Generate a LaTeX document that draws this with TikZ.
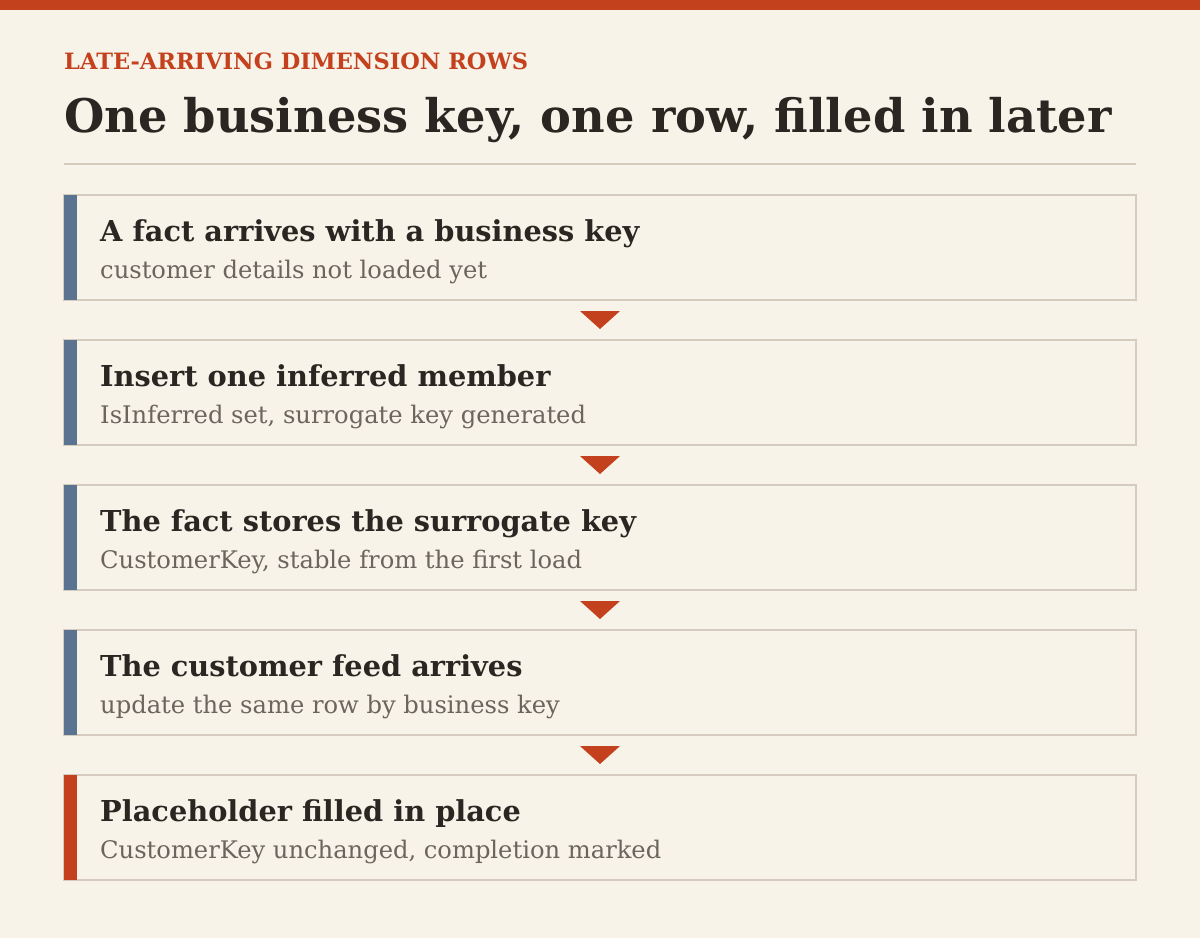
\documentclass[tikz,border=0pt]{standalone}
\usepackage{fontspec}
\setmainfont{DejaVu Serif}
\usetikzlibrary{positioning,calc}
\definecolor{paper}{HTML}{F7F3E9}
\definecolor{rust}{HTML}{C4411E}
\definecolor{ink}{HTML}{2A2622}
\definecolor{muted}{HTML}{6B655D}
\definecolor{rulegray}{HTML}{D5CCBF}
\definecolor{slate}{HTML}{5A7390}
\tikzset{
    stepbox/.style={
           draw=rulegray, line width=2pt,
           minimum width=1072pt,
           minimum height=105pt,
           inner sep=0pt, outer sep=0pt},
    head/.style={
           anchor=base west, inner sep=0pt, text=ink,
           font=\bfseries\fontsize{28.8}{33}\selectfont},
    sub/.style={
           anchor=base west, inner sep=0pt, text=muted,
           font=\fontsize{24.2}{28}\selectfont},
    pil/.style={
           fill=rust}
}
\begin{document}
\begin{tikzpicture}[x=1pt, y=-1pt, node distance=40pt]
        \fill[paper] (0,0) rectangle (1200,938);
        \fill[rust] (0,0) rectangle (1200,10);
        \node[anchor=base west, inner sep=0pt, text=rust, font=\bfseries\fontsize{22.5}{26}\selectfont] (kicker) at (64,69) {LATE-ARRIVING DIMENSION ROWS};
        \node[anchor=base west, inner sep=0pt, text=ink, font=\bfseries\fontsize{46.3}{52}\selectfont] (title) at (64,132) {One business key, one row, filled in later};
        \draw[rulegray, line width=2pt] (64,164) -- (1136,164);

        \node[stepbox] (s1) at (600,247.5) {};
        \node[stepbox, below=of s1] (s2) {};
        \node[stepbox, below=of s2] (s3) {};
        \node[stepbox, below=of s3] (s4) {};
        \node[stepbox, below=of s4] (s5) {};

        % accent bars
        \fill[slate] (s1.north west) rectangle ($(s1.south west)+(13,0)$);
        \fill[slate] (s2.north west) rectangle ($(s2.south west)+(13,0)$);
        \fill[slate] (s3.north west) rectangle ($(s3.south west)+(13,0)$);
        \fill[slate] (s4.north west) rectangle ($(s4.south west)+(13,0)$);
        \fill[rust] (s5.north west) rectangle ($(s5.south west)+(13,0)$);

        \node[head] (h1) at ($(s1.north west)+(36,46)$) {A fact arrives with a business key};
        \node[sub] (d1) at ($(s1.north west)+(36,83)$) {customer details not loaded yet};
        \node[head] (h2) at ($(s2.north west)+(36,46)$) {Insert one inferred member};
        \node[sub] (d2) at ($(s2.north west)+(36,83)$) {IsInferred set, surrogate key generated};
        \node[head] (h3) at ($(s3.north west)+(36,46)$) {The fact stores the surrogate key};
        \node[sub] (d3) at ($(s3.north west)+(36,83)$) {CustomerKey, stable from the first load};
        \node[head] (h4) at ($(s4.north west)+(36,46)$) {The customer feed arrives};
        \node[sub] (d4) at ($(s4.north west)+(36,83)$) {update the same row by business key};
        \node[head] (h5) at ($(s5.north west)+(36,46)$) {Placeholder filled in place};
        \node[sub] (d5) at ($(s5.north west)+(36,83)$) {CustomerKey unchanged, completion marked};

        % arrows between steps
        \path (s1.south) -- coordinate[midway] (m1) (s2.north);
        \path (s2.south) -- coordinate[midway] (m2) (s3.north);
        \path (s3.south) -- coordinate[midway] (m3) (s4.north);
        \path (s4.south) -- coordinate[midway] (m4) (s5.north);
        \fill[pil] (m1) ++(-20,-9) -- ++(40,0) -- ++(-20,18) -- cycle;
        \fill[pil] (m2) ++(-20,-9) -- ++(40,0) -- ++(-20,18) -- cycle;
        \fill[pil] (m3) ++(-20,-9) -- ++(40,0) -- ++(-20,18) -- cycle;
        \fill[pil] (m4) ++(-20,-9) -- ++(40,0) -- ++(-20,18) -- cycle;
    \end{tikzpicture}
\end{document}
